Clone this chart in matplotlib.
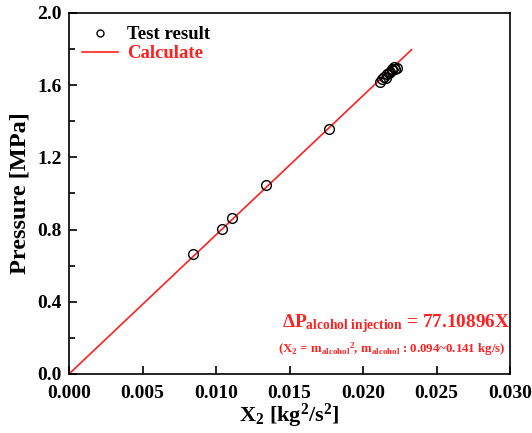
import numpy as np
import matplotlib
matplotlib.use('Agg')
import matplotlib.pyplot as plt

# data
x_test = [0.00845, 0.0104, 0.0111, 0.0134, 0.0177,
          0.02115, 0.02130, 0.02145, 0.02155, 0.02165, 0.02175,
          0.02185, 0.02195, 0.02200, 0.02210, 0.02220, 0.02228]
y_test = [0.665, 0.805, 0.865, 1.047, 1.360,
          1.620, 1.632, 1.645, 1.640, 1.660, 1.668,
          1.675, 1.690, 1.682, 1.700, 1.688, 1.695]
slope = 77.10896
x_calc = [0.0, 0.0233]

plt.rcParams['font.family'] = 'Liberation Serif'
plt.rcParams['font.weight'] = 'bold'
plt.rcParams['mathtext.fontset'] = 'custom'
plt.rcParams['mathtext.rm'] = 'Liberation Serif:bold'
plt.rcParams['mathtext.it'] = 'Liberation Serif:bold'
plt.rcParams['mathtext.bf'] = 'Liberation Serif:bold'

fig = plt.figure(figsize=(5.32, 4.33), dpi=100)
ax = fig.add_axes([0.1297, 0.1363, 0.829, 0.8337])

ax.plot(x_test, y_test, 'o', mfc='none', mec='black', ms=7, mew=1.0,
        label='Test result', zorder=3)
ax.plot(x_calc, [slope * v for v in x_calc], '-', color='#ff2020', lw=1.2,
        label='Calculate', zorder=2)

ax.set_xlim(0, 0.030)
ax.set_ylim(0, 2.0)
ax.set_xticks(np.arange(0, 0.0301, 0.005))
ax.set_yticks(np.arange(0, 2.01, 0.4))
ax.set_yticks(np.arange(0.2, 2.0, 0.4), minor=True)
ax.xaxis.set_major_formatter(matplotlib.ticker.FormatStrFormatter('%.3f'))
ax.yaxis.set_major_formatter(matplotlib.ticker.FormatStrFormatter('%.1f'))
ax.tick_params(axis='both', which='both', direction='in', top=False, right=False,
               labelsize=14, width=1.2)
ax.tick_params(which='major', length=6)
ax.tick_params(axis='x', which='major', pad=8)
ax.tick_params(axis='y', which='major', pad=5)
ax.tick_params(which='minor', length=4)
for s in ax.spines.values():
    s.set_linewidth(1.2)

ax.set_xlabel(r'X$_2$ [kg$^2$/s$^2$]', fontsize=16, fontweight='bold', labelpad=0)
ax.set_ylabel('Pressure [MPa]', fontsize=17.5, fontweight='bold', labelpad=5)

leg = ax.legend(loc='upper left', frameon=False, fontsize=13.5,
                handlelength=1.9, handletextpad=0.5,
                borderaxespad=0.3, labelspacing=0.1,
                bbox_to_anchor=(0.0, 1.0))
leg.legend_handles[0].set_markersize(5)
leg.get_texts()[1].set_color('#ff2020')

ax.text(0.483, 0.128, r'$\Delta$P$_{\rm alcohol\ injection}$ = 77.10896X',
        transform=ax.transAxes, color='#ff2020', fontsize=13.9, fontweight='bold')
ax.text(0.474, 0.06,
        r'(X$_2$ = m$_{\rm alcohol}$$^2$, m$_{\rm alcohol}$ : 0.094~0.141 kg/s)',
        transform=ax.transAxes, color='#ff2020', fontsize=9.3, fontweight='bold')

fig.savefig('out.png', dpi=100, facecolor='white')
